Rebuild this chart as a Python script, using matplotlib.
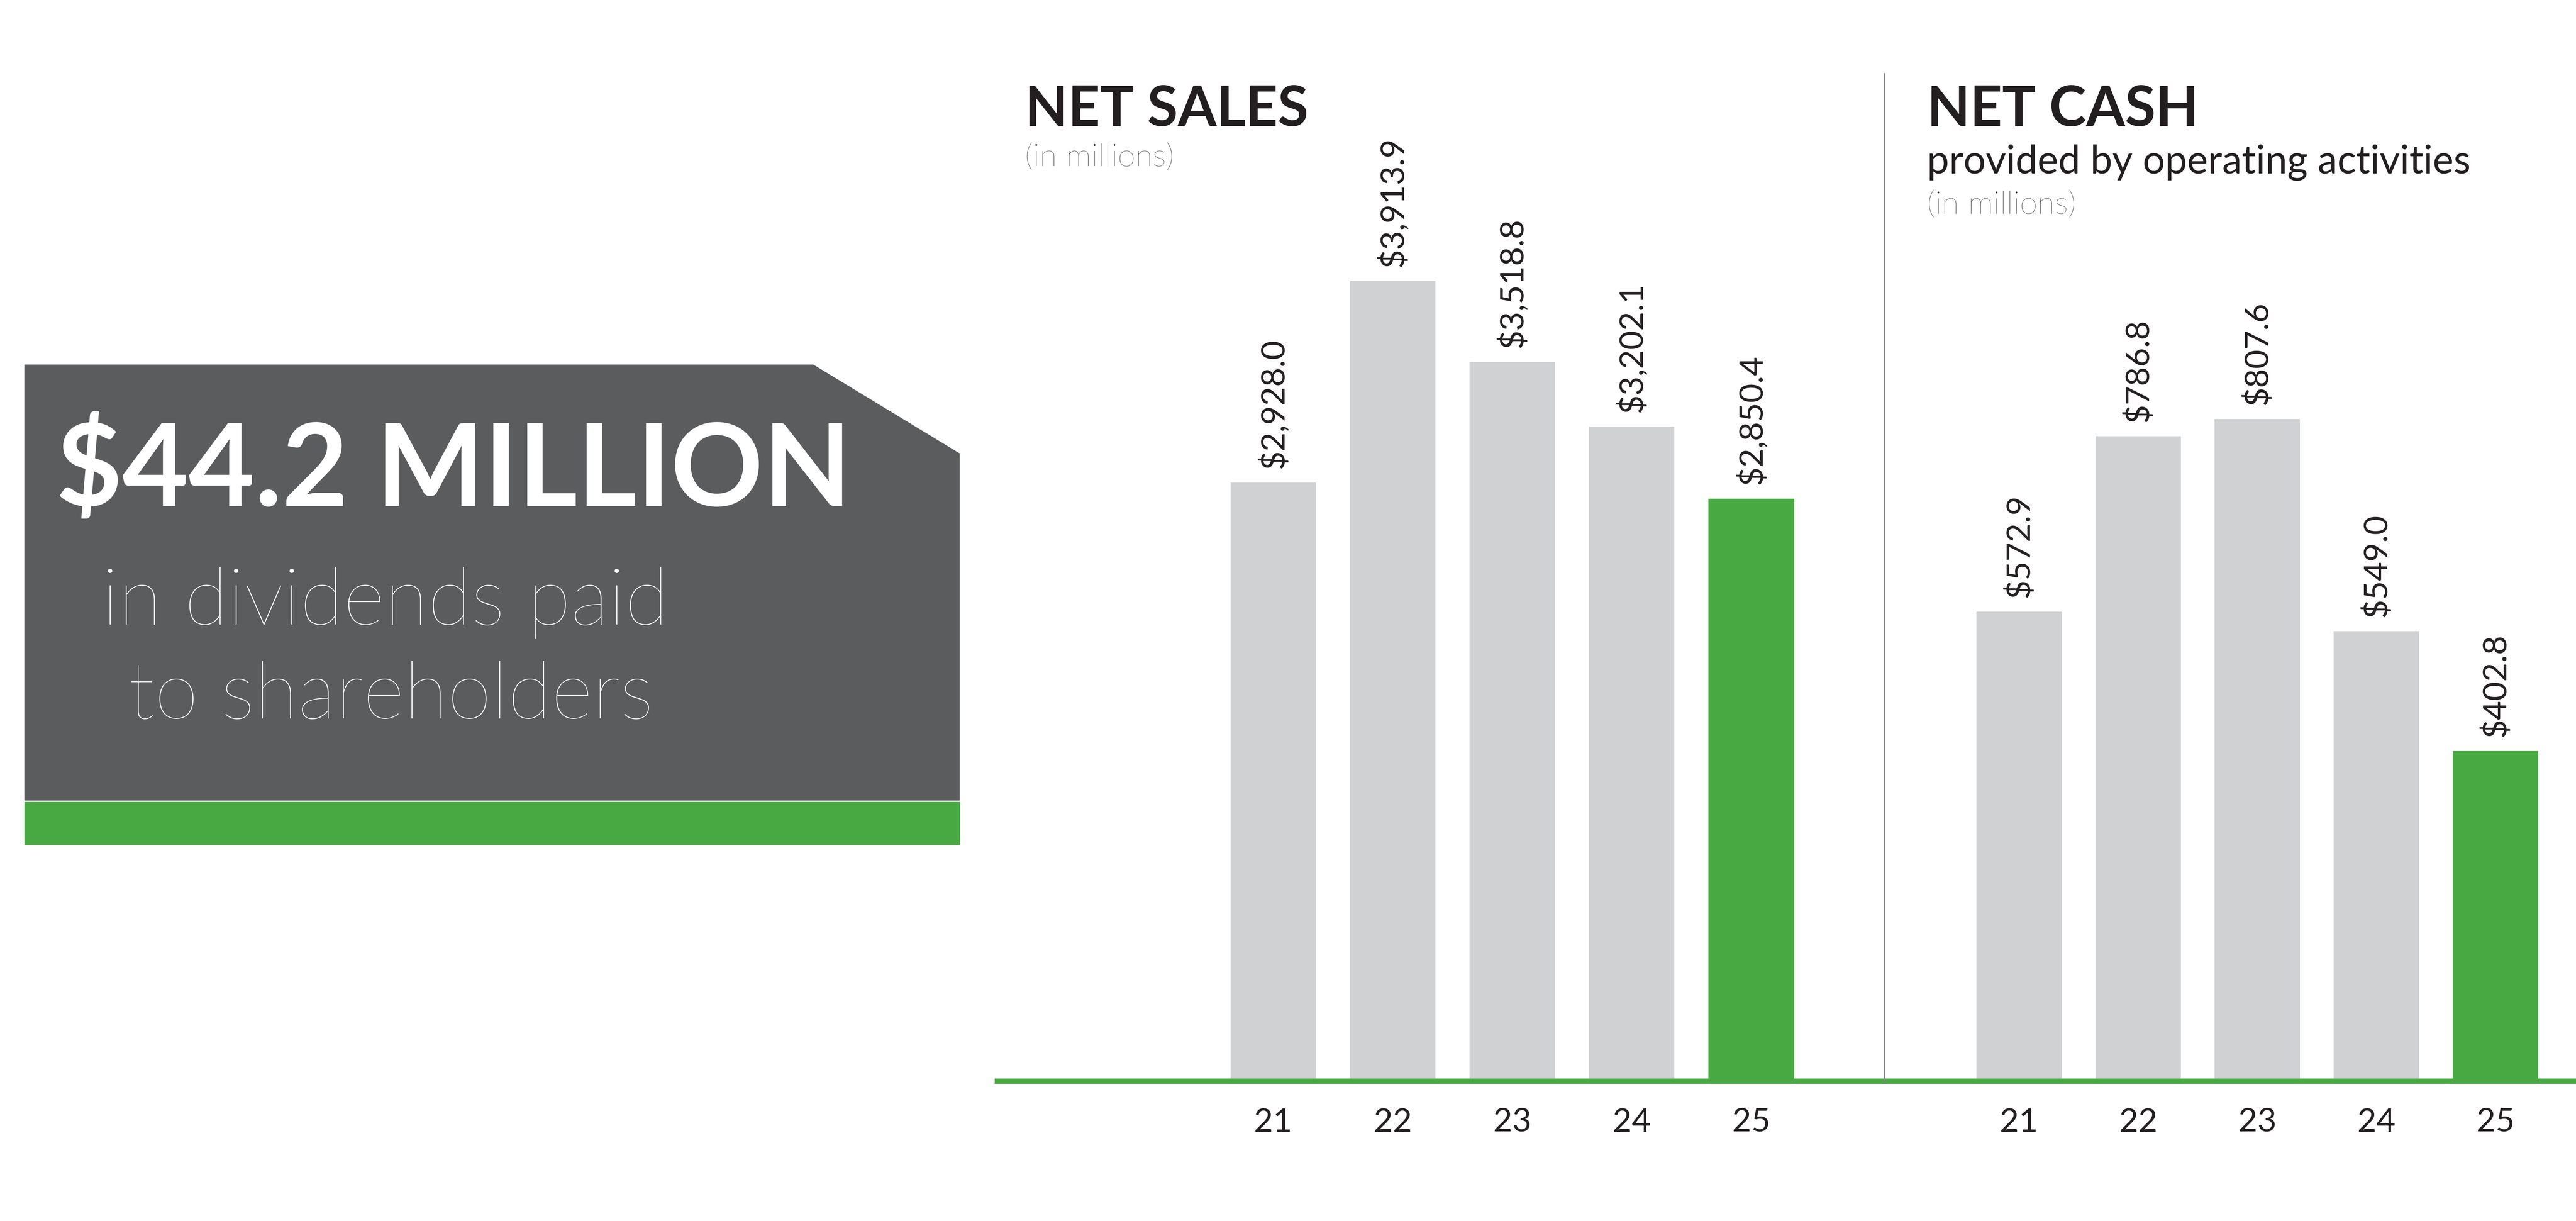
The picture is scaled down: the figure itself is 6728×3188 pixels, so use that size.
import matplotlib.pyplot as plt
from matplotlib.patches import Polygon, Rectangle

plt.rcParams['font.family'] = ['Lato', 'DejaVu Sans']

years = ["21", "22", "23", "24", "25"]
net_sales = [2928.0, 3913.9, 3518.8, 3202.1, 2850.4]
net_cash = [572.9, 786.8, 807.6, 549.0, 402.8]

GRAY_BAR = "#d0d1d3"
GREEN = "#48a942"
DARK = "#5b5c5e"
TEXT = "#231f20"

# reference layout measured on a 1568 x 743 preview
W, H = 1568.0, 743.0


def fx(x):
    return x / W


def fy(y):
    return 1 - y / H


fig = plt.figure(figsize=(67.28, 31.88), dpi=100)

# dividends callout
fig.patches.append(Polygon([(fx(15), fy(222)), (fx(495), fy(222)), (fx(584), fy(276)),
                            (fx(584), fy(487)), (fx(15), fy(487))],
                           closed=True, transform=fig.transFigure, color=DARK))
fig.patches.append(Rectangle((fx(15), fy(514)), fx(584) - fx(15), fy(488) - fy(514),
                             transform=fig.transFigure, color=GREEN))
fig.text(fx(276), fy(287), "$44.2 MILLION", color="white", fontsize=215, fontweight="bold",
         ha="center", va="center")
fig.text(fx(62), fy(367), "in dividends paid", color="white", fontsize=150, fontweight="light",
         ha="left", va="center")
fig.text(fx(78), fy(424), "to shareholders", color="white", fontsize=150, fontweight="light",
         ha="left", va="center")


def bar_panel(left, right, centre0, step, values, top_px, top_val, colors):
    ax = fig.add_axes([fx(left), fy(658), fx(right) - fx(left), fy(0) - fy(658)])
    ymax = top_val * 658 / (658 - top_px)
    ax.set_xlim((left - centre0) / step, (right - centre0) / step)
    ax.set_ylim(0, ymax)
    xs = range(len(values))
    ax.bar(xs, values, width=52 / step, color=colors)
    for x, v in zip(xs, values):
        ax.text(x, v + ymax * 0.013, f"${v:,.1f}", rotation=90, ha="center", va="bottom",
                fontsize=62, color=TEXT)
        ax.text(x, -ymax * 0.038, years[x], ha="center", va="center", fontsize=62,
                color=TEXT, clip_on=False)
    ax.axis("off")
    ax.axhline(0, color=GREEN, lw=10, clip_on=False)
    return ax


bar_panel(607, 1147, 775, 72.75, net_sales, 171, 3913.9, [GRAY_BAR] * 4 + [GREEN])
bar_panel(1147, 1568, 1229, 72.5, net_cash, 255, 807.6, [GRAY_BAR] * 4 + [GREEN])

fig.add_artist(plt.Line2D([fx(1147), fx(1147)], [fy(45), fy(658)], color="#888888", lw=3,
                          transform=fig.transFigure))

fig.text(fx(624), fy(67), "NET SALES", fontsize=105, fontweight="bold", color=TEXT, va="center")
fig.text(fx(624), fy(96), "(in millions)", fontsize=60, fontweight="light", color=TEXT, va="center")
fig.text(fx(1173), fy(67), "NET CASH", fontsize=105, fontweight="bold", color=TEXT, va="center")
fig.text(fx(1173), fy(99), "provided by operating activities", fontsize=74, color=TEXT, va="center")
fig.text(fx(1173), fy(125), "(in millions)", fontsize=60, fontweight="light", color=TEXT, va="center")

fig.savefig("out.png", dpi=100, facecolor="white")
